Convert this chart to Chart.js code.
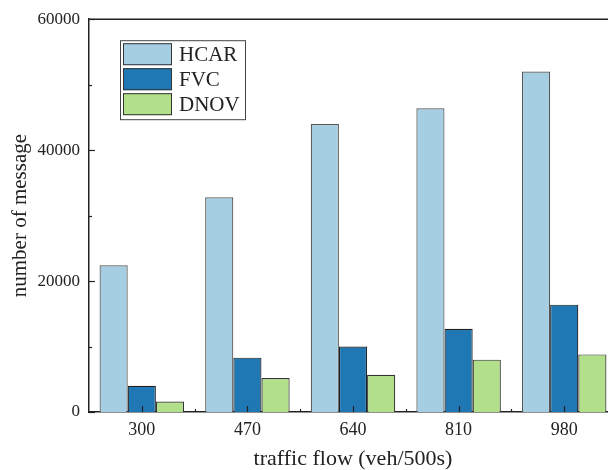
<!DOCTYPE html>
<html>
<head>
<meta charset="utf-8">
<script src="https://cdn.jsdelivr.net/npm/chart.js@4.4.0/dist/chart.umd.min.js"></script>
<style>
  html, body { margin: 0; padding: 0; background: #fff; overflow: hidden; }
  #wrap { width: 630px; height: 470px; }
</style>
</head>
<body>
<div id="wrap"><canvas id="chart" width="630" height="470"></canvas></div>
<script>
// ---- data ----
const categories = ['300', '470', '640', '810', '980'];
const hcar = [22400, 32800, 44000, 46400, 52000];
const fvc  = [4000, 8300, 10000, 12700, 16400];
const dnov = [1600, 5200, 5700, 8000, 8800];
const yTicks = [0, 20000, 40000, 60000];

const SERIF = '"Liberation Serif", "Times New Roman", serif';
const INK = '#222';

// tick marks inside the frame + top/right frame + legend box
const framePlugin = {
  id: 'frame',
  afterDraw(chart) {
    const { ctx, chartArea: a, scales } = chart;
    const x = scales.x, y = scales.y;
    ctx.save();
    ctx.strokeStyle = INK;
    ctx.lineWidth = 1.5;
    // top + right frame
    ctx.beginPath();
    ctx.moveTo(a.left, a.top);
    ctx.lineTo(a.right, a.top);
    ctx.lineTo(a.right, a.bottom);
    ctx.stroke();

    // y ticks (major + minor)
    ctx.lineWidth = 1.2;
    for (let v = 0; v <= 60000; v += 10000) {
      const py = Math.round(y.getPixelForValue(v)) + 0.5;
      const len = v % 20000 === 0 ? 6 : 3;
      ctx.beginPath();
      ctx.moveTo(a.left, py);
      ctx.lineTo(a.left + len, py);
      ctx.stroke();
    }
    // x ticks: major at categories, minor between
    for (let i = 0; i < categories.length; i++) {
      const px = Math.round(x.getPixelForValue(i)) + 0.5;
      ctx.beginPath();
      ctx.moveTo(px, a.bottom);
      ctx.lineTo(px, a.bottom - 6);
      ctx.stroke();
      if (i < categories.length - 1) {
        const mx = Math.round((x.getPixelForValue(i) + x.getPixelForValue(i + 1)) / 2) + 0.5;
        ctx.beginPath();
        ctx.moveTo(mx, a.bottom);
        ctx.lineTo(mx, a.bottom - 3);
        ctx.stroke();
      }
    }

    // legend
    const lx = a.left + 31, ly = a.top + 21;
    ctx.lineWidth = 1;
    ctx.strokeStyle = '#444';
    ctx.strokeRect(lx + 0.5, ly + 0.5, 125, 79);
    ctx.font = '21px ' + SERIF;
    ctx.textBaseline = 'middle';
    chart.data.datasets.forEach((ds, i) => {
      const sy = ly + 3 + i * 25;
      ctx.fillStyle = ds.backgroundColor;
      ctx.fillRect(lx + 3, sy, 49, 22);
      ctx.strokeStyle = '#333';
      ctx.strokeRect(lx + 3.5, sy + 0.5, 48, 21);
      ctx.fillStyle = INK;
      ctx.fillText(ds.label, lx + 59, sy + 12);
    });
    ctx.restore();
  }
};

new Chart(document.getElementById('chart'), {
  type: 'bar',
  data: {
    labels: categories,
    datasets: [
      { label: 'HCAR', data: hcar, backgroundColor: '#a6cee3', borderColor: '#555', borderWidth: 1.2 },
      { label: 'FVC',  data: fvc,  backgroundColor: '#1f78b4', borderColor: '#222', borderWidth: 1.2 },
      { label: 'DNOV', data: dnov, backgroundColor: '#b2df8a', borderColor: '#333', borderWidth: 1.2 }
    ]
  },
  options: {
    responsive: false,
    animation: false,
    layout: { padding: { top: 18, right: 13, left: 0, bottom: 0 } },
    datasets: { bar: { categoryPercentage: 0.8, barPercentage: 1.0 } },
    plugins: { legend: { display: false }, tooltip: { enabled: false } },
    scales: {
      x: {
        grid: { display: false, drawTicks: false },
        border: { display: true, color: INK, width: 1.5 },
        ticks: { color: INK, padding: 7, font: { family: SERIF, size: 18 } },
        title: { display: true, text: 'traffic flow (veh/500s)', color: INK, font: { family: SERIF, size: 22, lineHeight: 0.95 }, padding: { top: 0, bottom: 0 } },
        afterFit: s => { s.height = 58; }
      },
      y: {
        min: 0, max: 60000,
        grid: { display: false, drawTicks: false },
        border: { display: true, color: INK, width: 1.5 },
        afterBuildTicks: s => { s.ticks = yTicks.map(v => ({ value: v })); },
        ticks: { color: INK, padding: 9, font: { family: SERIF, size: 17 }, callback: v => String(v) },
        title: { display: true, text: 'number of message', color: INK, font: { family: SERIF, size: 21 }, padding: { top: 8, bottom: 0 } },
        afterFit: s => { s.width = 89; }
      }
    }
  },
  plugins: [framePlugin]
});
</script>
</body>
</html>
